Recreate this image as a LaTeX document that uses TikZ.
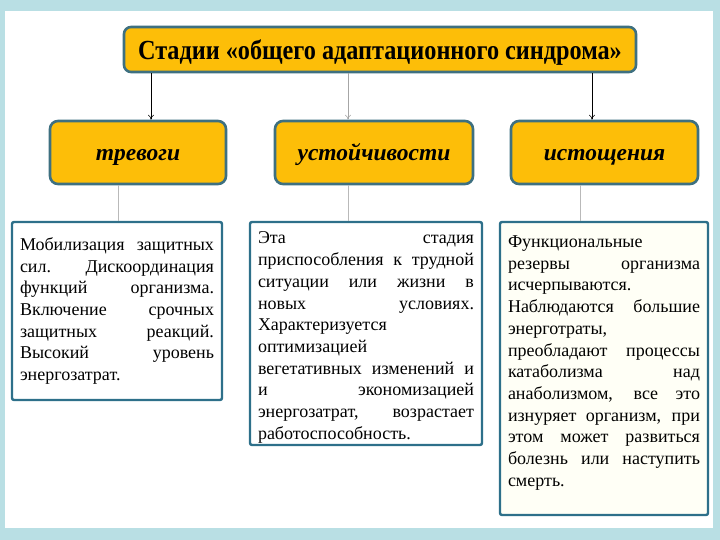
\documentclass[tikz,border=0pt]{standalone}
\usepackage{fontspec}
\setmainfont{Liberation Serif}
\usetikzlibrary{arrows.meta}
\definecolor{bgblue}{RGB}{185,223,228}
\definecolor{orng}{RGB}{253,190,8}
\definecolor{obord}{RGB}{62,112,128}
\definecolor{tbord}{RGB}{46,112,138}
\definecolor{cream}{RGB}{255,255,246}
\tikzset{
  titlebox/.style={draw=obord, line width=2.6pt, fill=orng, rounded corners=7pt,
    inner sep=0pt, text height=21pt, text depth=0pt,
    font=\fontsize{24}{28}\selectfont\bfseries},
  stagebox/.style={draw=obord, line width=2.6pt, fill=orng, rounded corners=8pt,
    inner sep=0pt, text height=16pt, text depth=0pt,
    font=\fontsize{23.5}{28}\selectfont\bfseries\itshape},
  descbox/.style={draw=tbord, line width=2.4pt, fill=white, rounded corners=2pt,
    align=justify, inner xsep=8pt, inner ysep=0pt,
    font=\fontsize{18}{21.7}\selectfont},
  arr/.style={-{To[length=5pt,width=6pt]}, line width=0.6pt},
  conn/.style={draw=gray!55, line width=0.6pt}
}
\begin{document}
\begin{tikzpicture}[x=1pt,y=-1pt]
\useasboundingbox (0,0) rectangle (720,540);
\fill[bgblue] (0,0) rectangle (720,540);
\fill[white] (5,11) rectangle (713,528);
\hyphenpenalty=10000
\node[titlebox, minimum width=512, minimum height=45] (T) at (380,49.5)
  {\scalebox{1.01}[1.15]{Стадии «общего адаптационного синдрома»}};
\node[stagebox, minimum width=176, minimum height=63] (s1) at (138,152.5) {тревоги};
\node[stagebox, minimum width=198, minimum height=63] (s2) at (374,152.5) {устойчивости};
\node[stagebox, minimum width=187, minimum height=63] (s3) at (604.5,152.5) {истощения};
\node[descbox, text width=194, minimum height=178] (d1) at (117,311)
  {Мобилизация защитных\linebreak сил. Дискоординация\linebreak функций организма.\linebreak
   Включение срочных\linebreak защитных реакций.\linebreak Высокий уровень\linebreak энергозатрат.};
\node[descbox, text width=216, minimum height=223] (d2) at (366,333.5)
  {\vrule width 0pt height 20pt Эта стадия\linebreak приспособления к трудной\linebreak ситуации или жизни в\linebreak
   новых условиях.\linebreak Характеризуется\linebreak оптимизацией\linebreak
   вегетативных изменений и\linebreak и экономизацией\linebreak энергозатрат, возрастает\linebreak
   работоспособность.};
\node[descbox, fill=cream, text width=192, minimum height=293] (d3) at (604,368.5)
  {Функциональные\linebreak резервы организма\linebreak исчерпываются.\linebreak
   Наблюдаются большие\linebreak энерготраты,\linebreak преобладают процессы\linebreak
   катаболизма над\linebreak анаболизмом, все это\linebreak изнуряет организм, при\linebreak
   этом может развиться\linebreak болезнь или наступить\linebreak смерть.\vrule width 0pt depth 15pt};
\coordinate (a1) at ([xshift=13]s1.north);
\coordinate (a2) at ([xshift=-26]s2.north);
\coordinate (a3) at ([xshift=-12.5]s3.north);
\draw[arr] (T.south -| a1) -- (a1);
\draw[arr, draw=gray!70] (T.south -| a2) -- (a2);
\draw[arr] (T.south -| a3) -- (a3);
\coordinate (b1) at ([xshift=1]d1.north);
\coordinate (b2) at ([xshift=-18]d2.north);
\coordinate (b3) at ([xshift=-24]d3.north);
\draw[conn] (s1.south -| b1) -- (b1);
\draw[conn] (s2.south -| b2) -- (b2);
\draw[conn] (s3.south -| b3) -- (b3);
\end{tikzpicture}
\end{document}
